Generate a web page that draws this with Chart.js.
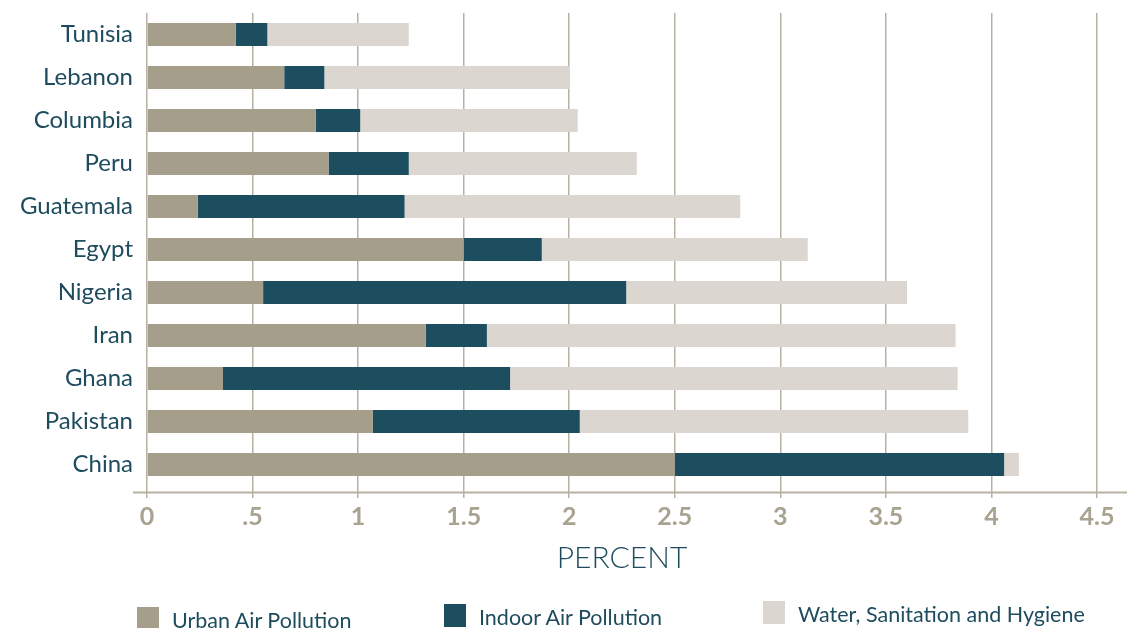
<!DOCTYPE html>
<html>
<head>
<meta charset="utf-8">
<script src="https://cdn.jsdelivr.net/npm/chart.js@4"></script>
<style>
  html, body { margin: 0; padding: 0; background: #fff; }
  #wrap { position: relative; width: 1127px; height: 628px; overflow: hidden; }
  .lg { position: absolute; display: flex; align-items: center; font-family: Lato, sans-serif; font-size: 21.5px; color: #1e4c5e; white-space: nowrap; }
  .lg .box { width: 22px; height: 23px; margin-right: 13px; }
  .lg .txt { position: relative; top: 2px; }
</style>
</head>
<body>
<div id="wrap">
  <canvas id="chart" width="1127" height="628"></canvas>
  <div id="legend"></div>
</div>
<script>
// ---- data ----
const countries = ['Tunisia', 'Lebanon', 'Columbia', 'Peru', 'Guatemala', 'Egypt', 'Nigeria', 'Iran', 'Ghana', 'Pakistan', 'China'];
const urbanAir  = [0.42, 0.65, 0.80, 0.86, 0.24, 1.50, 0.55, 1.32, 0.36, 1.07, 2.50];
const indoorAir = [0.15, 0.19, 0.21, 0.38, 0.98, 0.37, 1.72, 0.29, 1.36, 0.98, 1.56];
const water     = [0.67, 1.16, 1.03, 1.08, 1.59, 1.26, 1.33, 2.22, 2.12, 1.84, 0.07];
const xTickLabels = ['0', '.5', '1', '1.5', '2', '2.5', '3', '3.5', '4', '4.5'];
const seriesNames = ['Urban Air Pollution', 'Indoor Air Pollution', 'Water, Sanitation and Hygiene'];

const COLORS = {
  urban:  '#a59e8a',
  indoor: '#1d4e60',
  water:  '#dbd6d0',
  grid:   '#b6b1a3',
  label:  '#1e4c5e',
  tick:   '#a8a290',
};

// axis baseline that runs past the plot on both sides
const axisLine = {
  id: 'axisLine',
  beforeDatasetsDraw(chart) {
    const { ctx, chartArea, width } = chart;
    const y = chartArea.bottom + 6.5;
    ctx.save();
    ctx.strokeStyle = COLORS.grid;
    ctx.lineWidth = 2;
    ctx.beginPath();
    ctx.moveTo(chartArea.left - 14, y);
    ctx.lineTo(width, y);
    ctx.stroke();
    ctx.restore();
  },
};

const barOpts = { barPercentage: 0.535, categoryPercentage: 1, borderWidth: 0 };

new Chart(document.getElementById('chart'), {
  type: 'bar',
  data: {
    labels: countries,
    datasets: [
      { label: seriesNames[0], data: urbanAir,  backgroundColor: COLORS.urban,  ...barOpts },
      { label: seriesNames[1], data: indoorAir, backgroundColor: COLORS.indoor, ...barOpts },
      { label: seriesNames[2], data: water,     backgroundColor: COLORS.water,  ...barOpts },
    ],
  },
  options: {
    indexAxis: 'y',
    responsive: false,
    animation: false,
    layout: { padding: { top: 13, right: 30, left: 0, bottom: 0 } },
    plugins: {
      legend: { display: false },
      tooltip: { enabled: false },
    },
    scales: {
      x: {
        stacked: true,
        min: 0,
        max: 4.5,
        border: { display: false },
        grid: { color: COLORS.grid, lineWidth: 1.5, tickLength: 12, tickColor: COLORS.grid },
        ticks: {
          stepSize: 0.5,
          padding: 4,
          color: COLORS.tick,
          font: { family: 'Lato', size: 25, weight: 'bold' },
          callback: (v, i) => xTickLabels[i],
        },
        title: {
          display: true,
          text: 'PERCENT',
          color: COLORS.label,
          font: { family: 'Lato', size: 30, weight: 300 },
          padding: { top: 0, bottom: 52 },
        },
        afterFit: scale => { scale.height = 142; },
      },
      y: {
        stacked: true,
        border: { display: false },
        grid: { display: false },
        ticks: {
          padding: 6,
          color: COLORS.label,
          font: { family: 'Lato', size: 24, lineHeight: 1.07 },
        },
        afterFit: scale => {
          scale.width = 147;
          scale.paddingTop = 0;
          scale.paddingBottom = 0;
        },
      },
    },
  },
  plugins: [axisLine],
});

// ---- legend ----
const legendColors = [COLORS.urban, COLORS.indoor, COLORS.water];
const legendLeft = [137, 444, 763];
const legendTop  = [605, 602, 599];
const legendEl = document.getElementById('legend');
seriesNames.forEach((name, i) => {
  const item = document.createElement('div');
  item.className = 'lg';
  item.style.left = legendLeft[i] + 'px';
  item.style.top = legendTop[i] + 'px';
  item.innerHTML = `<span class="box" style="background:${legendColors[i]}"></span><span class="txt">${name}</span>`;
  legendEl.appendChild(item);
});
</script>
</body>
</html>
